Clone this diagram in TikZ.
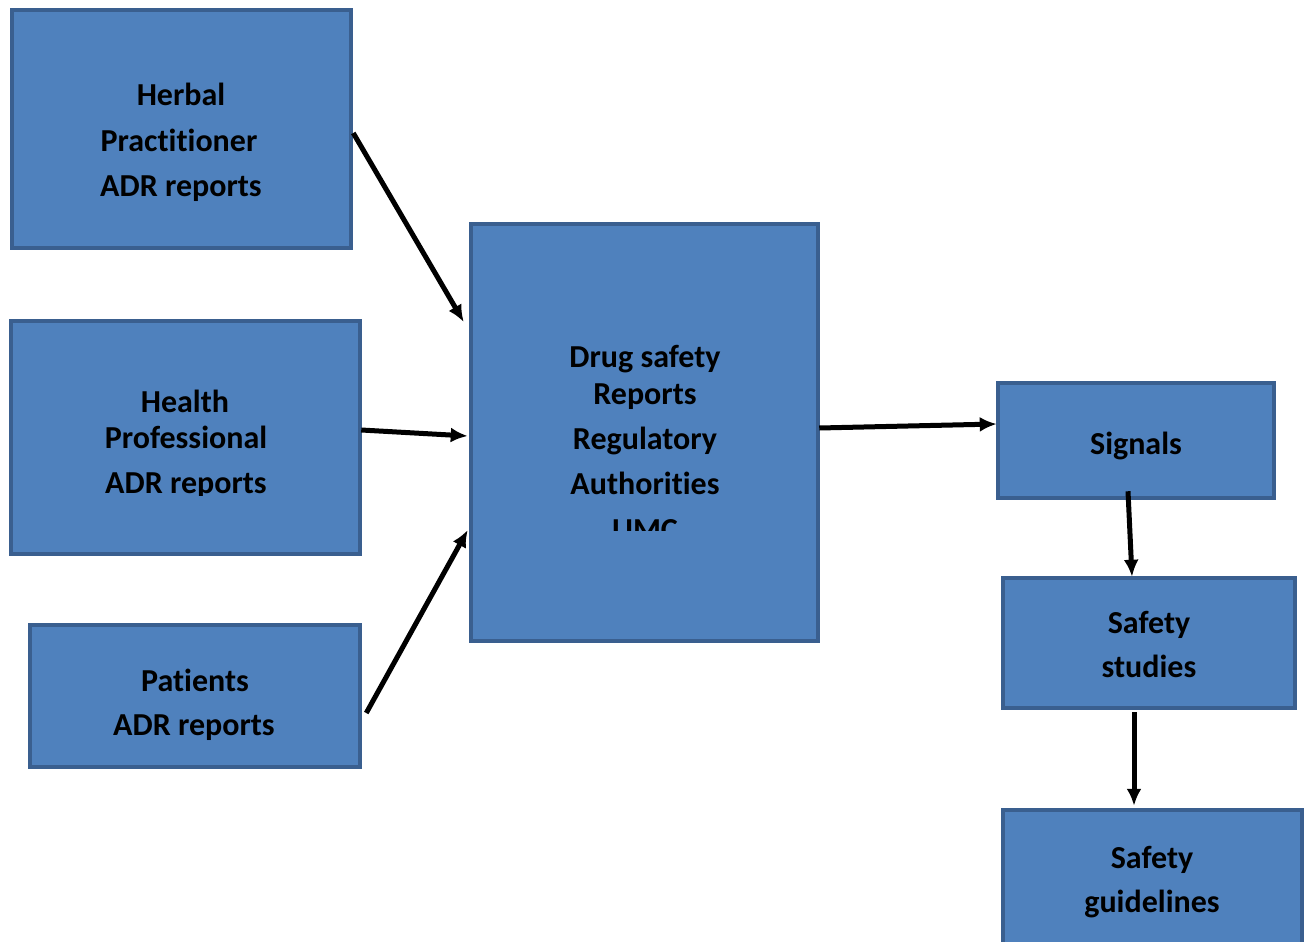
\documentclass[tikz,border=0pt]{standalone}
\usepackage{fontspec}
\setmainfont{Carlito}[RawFeature={-liga}]
\usetikzlibrary{arrows.meta,calc}
\definecolor{boxfill}{HTML}{4F81BD}
\definecolor{boxline}{HTML}{3A5F8F}
\tikzset{
  box/.style={draw=boxline, fill=boxfill, line width=4.5pt, rectangle, inner sep=0pt},
  txt/.style={font=\fontsize{32}{38}\selectfont\bfseries, inner sep=0pt, anchor=base, text=black},
  conn/.style={line width=5pt, -{Latex[length=17pt,width=15pt]}}
}
\begin{document}
\begin{tikzpicture}[x=1pt,y=-1pt]
\useasboundingbox (0,0) rectangle (1309,942);
% boxes
\node[box, minimum width=339pt, minimum height=238pt] (herbal) at (181.5,129) {};
\node[box, minimum width=349pt, minimum height=233pt] (health) at (185.5,437.5) {};
\node[box, minimum width=330pt, minimum height=142pt] (patients) at (195,696) {};
\node[box, minimum width=347pt, minimum height=417pt] (center) at (644.5,432.5) {};
\node[box, minimum width=276pt, minimum height=115pt] (signals) at (1136,440.5) {};
\node[box, minimum width=292pt, minimum height=130pt] (studies) at (1149,643) {};
\node[box, minimum width=299pt, minimum height=150pt] (guide) at (1152.5,885) {};
% texts
\node[txt] (herbal1) at (181,106) {Herbal};
\node[txt] (herbal2) at (179,151) {Practitioner};
\node[txt] (herbal3) at (181,196) {ADR reports};
\begin{scope}
\clip (health.north west) rectangle ($(health.east)+(2,57.5)$);
\node[txt] (health1) at (185,412) {Health};
\node[txt] (health2) at (186,448) {Professional};
\node[txt] (health3) at (186,493) {ADR reports};
\end{scope}
\node[txt] (pat1) at (195,691) {Patients};
\node[txt] (pat2) at (194,735) {ADR reports};
\begin{scope}
\clip (center.north west) rectangle ($(center.east)+(2,97.5)$);
\node[txt] (c1) at (645,367) {Drug safety};
\node[txt] (c2) at (645,404) {Reports};
\node[txt] (c3) at (645,449) {Regulatory};
\node[txt] (c4) at (645,494) {Authorities};
\node[txt] (c5) at (645,540) {UMC};
\end{scope}
\node[txt] (sig1) at (1136,454) {Signals};
\node[txt] (st1) at (1149,633) {Safety};
\node[txt] (st2) at (1149,677) {studies};
\node[txt] (g1) at (1152,868) {Safety};
\node[txt] (g2) at (1152,912) {guidelines};
% connector end points
\coordinate (a1s) at ($(herbal.east)+(0,4)$);
\coordinate (a1e) at ($(center.west)+(-5,-110.5)$);
\coordinate (a2s) at ($(health.east)+(-1,-7.5)$);
\coordinate (a2e) at ($(center.west)+(-1,3.5)$);
\coordinate (a3s) at ($(patients.east)+(4,17)$);
\coordinate (a3e) at ($(center.west)+(-1,97.5)$);
\coordinate (a4s) at ($(center.east)+(-1,-4.5)$);
\coordinate (a4e) at ($(signals.west)+(1,-16.5)$);
\coordinate (a5s) at ($(signals.south)+(-8,-9)$);
\coordinate (a5e) at ($(studies.north)+(-17,1)$);
\coordinate (a6s) at ($(studies.south)+(-15,2)$);
\coordinate (a6e) at ($(guide.north)+(-18.5,-2)$);
% connectors
\draw[conn] (a1s) -- (a1e);
\draw[conn] (a2s) -- (a2e);
\draw[conn] (a3s) -- (a3e);
\draw[conn] (a4s) -- (a4e);
\draw[conn] (a5s) -- (a5e);
\draw[conn] (a6s) -- (a6e);
\end{tikzpicture}
\end{document}
